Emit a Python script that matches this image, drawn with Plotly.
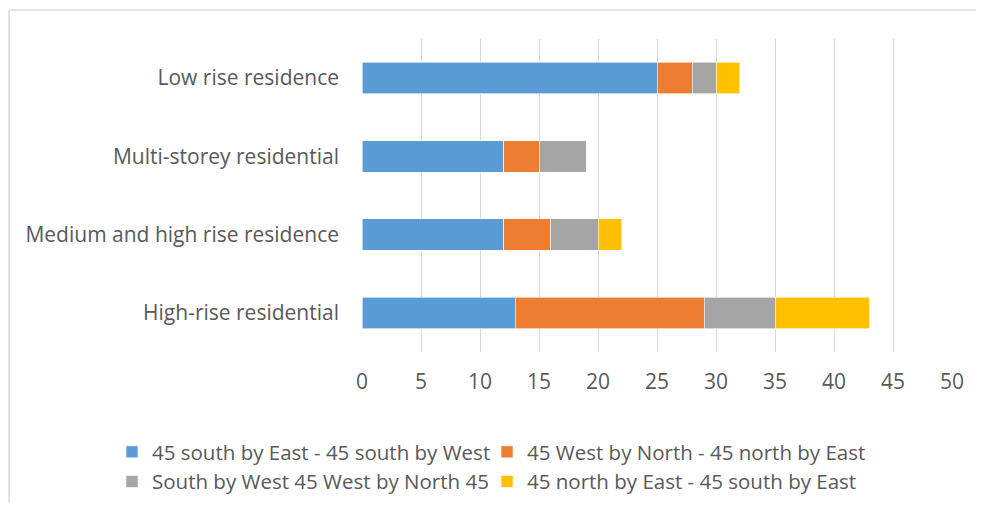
import plotly.graph_objects as go

categories = ["Low rise residence", "Multi-storey residential",
              "Medium and high rise residence", "High-rise residential"]
series_names = ["45 south by East - 45 south by West",
                "45 West by North - 45 north by East",
                "South by West 45 West by North 45",
                "45 north by East - 45 south by East"]
s1 = [25, 12, 12, 13]
s2 = [3, 3, 4, 16]
s3 = [2, 4, 4, 6]
s4 = [2, 0, 2, 8]
colors = ["#5B9BD5", "#ED7D31", "#A5A5A5", "#FFC000"]
x_ticks = [0, 5, 10, 15, 20, 25, 30, 35, 40, 45, 50]

FONT = "Open Sans"
TXT = "#595959"
FS = 21

# page body has an 8px margin on every side; keep the page inside the window
OFF = 8
W, H = 984 - 2 * OFF, 510 - 2 * OFF
L, T = 362 - OFF, 39 - OFF
R = W - (952 - OFF)
B = H - (352 - OFF)
PW, PH = W - L - R, H - T - B

fig = go.Figure()
for name, vals, col in zip(series_names, [s1, s2, s3, s4], colors):
    fig.add_trace(go.Bar(
        y=categories, x=vals, name=name, orientation="h",
        marker=dict(color=col, line=dict(color="white", width=0.6)),
    ))

def px_x(sx):
    return (sx - OFF - L) / PW

def px_y(sy):
    return 1 - (sy - OFF - T) / PH

fig.update_layout(
    width=W, height=H,
    barmode="stack", bargap=0.6,
    margin=dict(l=L, r=R, t=T, b=B, autoexpand=False),
    paper_bgcolor="white", plot_bgcolor="white",
    font=dict(family=FONT, size=FS, color=TXT),
    xaxis=dict(range=[0, 50], tickvals=x_ticks, showgrid=True,
               gridcolor="#D9D9D9", gridwidth=1, zeroline=False,
               showline=False, ticks="", ticklabelstandoff=15,
               tickfont=dict(size=FS, color=TXT)),
    yaxis=dict(autorange="reversed", showgrid=False, zeroline=False,
               showline=False, ticks="", ticklabelstandoff=22,
               tickfont=dict(size=FS, color=TXT)),
    legend=dict(orientation="h", xref="paper", yref="paper",
                x=px_x(134 - 14), xanchor="left", y=px_y(432), yanchor="top",
                entrywidth=338, entrywidthmode="pixels", indentation=-8,
                font=dict(size=20.5, color=TXT), traceorder="normal",
                itemclick=False),
    showlegend=True,
)

# chart area border: only the top and left edges are visible in the reference
border = dict(color="#D9D9D9", width=1.5)
fig.add_shape(type="line", xref="paper", yref="paper",
              x0=px_x(9), x1=px_x(1100), y0=px_y(10), y1=px_y(10), line=border)
fig.add_shape(type="line", xref="paper", yref="paper",
              x0=px_x(9), x1=px_x(9), y0=px_y(10), y1=px_y(600), line=border)

fig.write_html("out.html")
